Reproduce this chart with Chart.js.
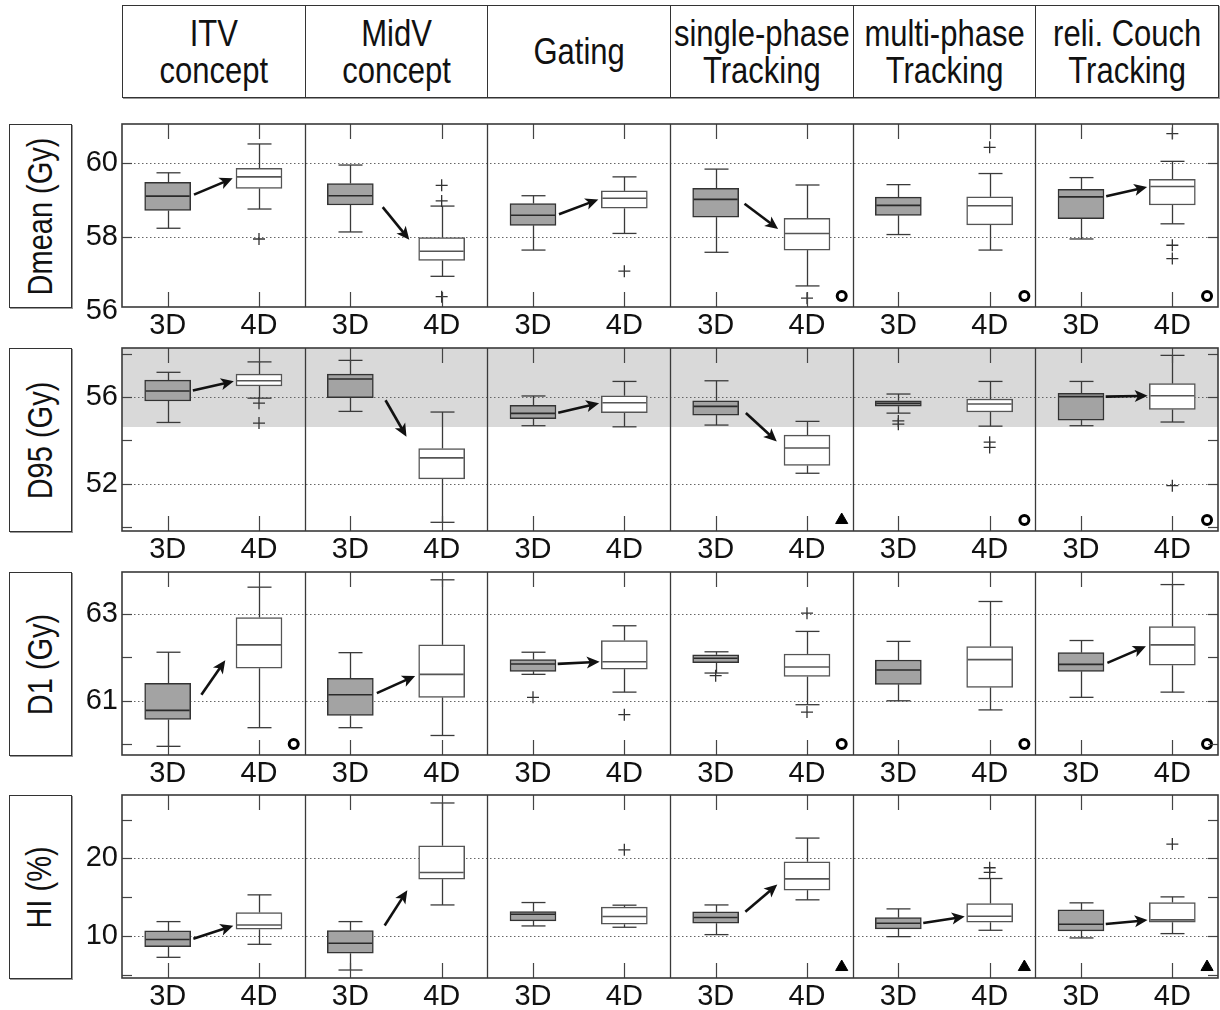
<!DOCTYPE html>
<html>
<head>
<meta charset="utf-8">
<script src="https://cdn.jsdelivr.net/npm/chart.js@4.4.1/dist/chart.umd.min.js"></script>
<style>
  body { margin: 0; background: #fff; font-family: 'Liberation Sans', Arial, sans-serif; overflow: hidden; }
  #page { position: relative; width: 1220px; height: 1010px; }
  .header { position: absolute; left: 122px; top: 5px; width: 1097px; height: 93px; display: flex;
            border: 1px solid #333; box-sizing: border-box; box-shadow: 1px 1px 0 #999; }
  .header div { flex: 1; display: flex; align-items: center; justify-content: center; text-align: center;
                border-left: 1px solid #333; }
  .header div:first-child { border-left: none; }
  .header span { font-size: 31px; line-height: 31px; color: #111; white-space: pre-line;
                 transform: scale(1, 1.2); }
  .ylab { position: absolute; left: 9px; width: 63px; border: 1px solid #333; box-sizing: border-box;
          display: flex; align-items: center; justify-content: center; box-shadow: 1px 1px 0 #999; }
  .ylab span { transform: rotate(-90deg) scale(1, 1.2); white-space: nowrap; font-size: 29px; color: #111; }
  canvas { position: absolute; left: 0; }
</style>
</head>
<body>
<div id="page"></div>
<script>
const concepts = ['ITV\nconcept', 'MidV\nconcept', 'Gating', 'single-phase\nTracking', 'multi-phase\nTracking', 'reli. Couch\nTracking'];
const groups = ['3D', '4D'];
const metrics = ['Dmean (Gy)', 'D95 (Gy)', 'D1 (Gy)', 'HI (%)'];

// box values per concept: [lower whisker, q1, median, q3, upper whisker]
const dmean3D = [[58.23, 58.71, 59.10, 59.47, 59.73], [58.13, 58.86, 59.11, 59.44, 59.94], [57.64, 58.31, 58.58, 58.90, 59.11],
                 [57.58, 58.53, 59.01, 59.31, 59.83], [58.06, 58.58, 58.85, 59.07, 59.41], [57.94, 58.49, 59.08, 59.28, 59.60]];
const dmean4D = [[58.75, 59.31, 59.62, 59.85, 60.51], [56.93, 57.36, 57.61, 57.98, 58.83], [58.09, 58.77, 59.04, 59.24, 59.62],
                 [56.67, 57.64, 58.09, 58.50, 59.40], [57.64, 58.32, 58.84, 59.08, 59.71], [58.35, 58.86, 59.36, 59.55, 60.04]];
const dmeanOut3D = [[], [], [], [], [], []];
const dmeanOut4D = [[57.94], [59.39, 58.97, 56.38], [57.07], [56.34], [60.42], [60.79, 57.77, 57.41]];
const dmeanArrows = [true, true, true, true, false, true];
const dmeanMarks = ['', '', '', 'circle', 'circle', 'circle'];
const dmeanTicks = [56, 58, 60];
const dmeanLabels = [56, 58, 60];

const d953D = [[54.83, 55.82, 56.28, 56.78, 57.14], [55.34, 55.97, 56.83, 57.06, 57.69], [54.68, 55.00, 55.25, 55.62, 56.05],
               [54.71, 55.17, 55.57, 55.83, 56.75], [55.26, 55.58, 55.71, 55.83, 56.14], [54.68, 54.94, 56.02, 56.17, 56.72]];
const d954D = [[55.95, 56.51, 56.75, 57.06, 57.62], [50.23, 52.23, 53.20, 53.63, 55.31], [54.63, 55.28, 55.74, 56.06, 56.72],
               [52.49, 52.85, 53.65, 54.25, 54.88], [54.66, 55.31, 55.68, 55.91, 56.72], [54.85, 55.43, 56.06, 56.62, 57.92]];
const d95Out3D = [[], [], [], [], [54.9, 54.75], []];
const d95Out4D = [[55.72, 54.80], [], [], [], [53.92, 53.68], [51.92]];
const d95Arrows = [true, true, true, true, false, true];
const d95Marks = ['', '', '', 'triangle', 'circle', 'circle'];
const d95Ticks = [50, 52, 54, 56, 58];
const d95Labels = [52, 56];
const d95Band = [54.62, 58.3];

const d13D = [[59.95, 60.57, 60.78, 61.40, 62.12], [60.38, 60.66, 61.14, 61.52, 62.11], [61.61, 61.68, 61.85, 61.95, 62.12],
              [61.64, 61.88, 61.98, 62.06, 62.13], [61.00, 61.38, 61.71, 61.94, 62.37], [61.08, 61.68, 61.84, 62.11, 62.39]];
const d14D = [[60.38, 61.75, 62.29, 62.92, 63.62], [60.20, 61.08, 61.61, 62.29, 63.79], [61.20, 61.73, 61.90, 62.39, 62.73],
              [60.91, 61.56, 61.78, 62.08, 62.60], [60.79, 61.31, 61.95, 62.25, 63.29], [61.20, 61.82, 62.29, 62.71, 63.68]];
const d1Out3D = [[], [], [61.08], [61.58], [], []];
const d1Out4D = [[], [], [60.68], [63.02, 60.74], [], []];
const d1Arrows = [true, true, true, false, false, true];
const d1Marks = ['circle', '', '', 'circle', 'circle', 'circle'];
const d1Ticks = [60, 61, 62, 63];
const d1Labels = [61, 63];

const hi3D = [[7.24, 8.62, 9.53, 10.65, 11.85], [5.60, 7.76, 9.05, 10.69, 11.85], [11.29, 11.94, 12.80, 13.15, 14.31],
              [10.17, 11.64, 12.37, 13.10, 14.00], [9.91, 10.91, 11.64, 12.37, 13.49], [9.74, 10.65, 11.51, 13.36, 14.27]];
const hi4D = [[8.92, 10.86, 11.42, 13.02, 15.30], [14.00, 17.33, 18.19, 21.64, 27.16], [11.12, 11.51, 12.50, 13.71, 13.97],
              [14.66, 15.91, 17.37, 19.57, 22.63], [10.73, 11.77, 12.54, 14.18, 17.41], [10.30, 11.77, 12.07, 14.31, 15.04]];
const hiOut3D = [[], [], [], [], [], []];
const hiOut4D = [[], [], [21.12], [], [18.8, 18.2], [21.85]];
const hiArrows = [true, true, false, true, true, true];
const hiMarks = ['', '', '', 'triangle', 'triangle', 'triangle'];
const hiTicks = [5, 10, 15, 20, 25];
const hiLabels = [10, 20];

const rows = [
  { box3: dmean3D, box4: dmean4D, out3: dmeanOut3D, out4: dmeanOut4D, arrows: dmeanArrows, marks: dmeanMarks,
    ticks: dmeanTicks, labels: dmeanLabels, min: 56.1, max: 61.05, band: null, top: 124 },
  { box3: d953D, box4: d954D, out3: d95Out3D, out4: d95Out4D, arrows: d95Arrows, marks: d95Marks,
    ticks: d95Ticks, labels: d95Labels, min: 49.83, max: 58.26, band: d95Band, top: 348 },
  { box3: d13D, box4: d14D, out3: d1Out3D, out4: d1Out4D, arrows: d1Arrows, marks: d1Marks,
    ticks: d1Ticks, labels: d1Labels, min: 59.75, max: 63.97, band: null, top: 572 },
  { box3: hi3D, box4: hi4D, out3: hiOut3D, out4: hiOut4D, arrows: hiArrows, marks: hiMarks,
    ticks: hiTicks, labels: hiLabels, min: 4.57, max: 28.19, band: null, top: 795 }
];

const FONT = "'Liberation Sans', Arial, sans-serif";
const PLOT_H = 183;
const BOX_W = 46;
const page = document.getElementById('page');

// header and row titles
const header = document.createElement('div');
header.className = 'header';
concepts.forEach(c => {
  const d = document.createElement('div');
  const s = document.createElement('span');
  s.textContent = c;
  d.appendChild(s);
  header.appendChild(d);
});
page.appendChild(header);

metrics.forEach((m, r) => {
  const d = document.createElement('div');
  d.className = 'ylab';
  d.style.top = rows[r].top + 'px';
  d.style.height = (PLOT_H + 1) + 'px';
  d.innerHTML = '<span></span>';
  d.firstChild.textContent = m;
  page.appendChild(d);
});

function line(ctx, x1, y1, x2, y2) {
  ctx.beginPath(); ctx.moveTo(x1, y1); ctx.lineTo(x2, y2); ctx.stroke();
}

function arrow(ctx, x1, y1, x2, y2) {
  const len = Math.hypot(x2 - x1, y2 - y1);
  const ux = (x2 - x1) / len, uy = (y2 - y1) / len;
  const cx = (x1 + x2) / 2, cy = (y1 + y2) / 2;
  const sx = cx - ux * 21, sy = cy - uy * 21, ex = cx + ux * 21, ey = cy + uy * 21;
  const head = 13, hw = 6;
  ctx.beginPath(); ctx.moveTo(sx, sy); ctx.lineTo(ex - ux * head * 0.7, ey - uy * head * 0.7); ctx.stroke();
  ctx.beginPath();
  ctx.moveTo(ex, ey);
  ctx.lineTo(ex - ux * head - uy * hw, ey - uy * head + ux * hw);
  ctx.lineTo(ex - ux * head * 0.75, ey - uy * head * 0.75);
  ctx.lineTo(ex - ux * head + uy * hw, ey - uy * head - ux * hw);
  ctx.closePath(); ctx.fill();
}

function makeChart(row, idx) {
  const canvas = document.createElement('canvas');
  canvas.width = 1220;
  canvas.height = 2 + PLOT_H + 38;
  canvas.style.top = (row.top - 2) + 'px';
  page.appendChild(canvas);

  const outliers = [];
  row.out3.forEach((list, i) => list.forEach(v => outliers.push({ x: i + 0.25, y: v })));
  row.out4.forEach((list, i) => list.forEach(v => outliers.push({ x: i + 0.75, y: v })));
  const markY = row.min + (row.max - row.min) * 0.06;
  const circles = [], triangles = [];
  row.marks.forEach((m, i) => {
    if (m === 'circle') circles.push({ x: i + 0.94, y: markY });
    if (m === 'triangle') triangles.push({ x: i + 0.94, y: markY });
  });

  const decor = {
    id: 'decor' + idx,
    beforeDatasetsDraw(chart) {
      const { ctx, chartArea: a, scales: { x, y } } = chart;
      ctx.save();
      if (row.band) {
        const yt = y.getPixelForValue(Math.min(row.band[1], row.max));
        const yb = y.getPixelForValue(row.band[0]);
        ctx.fillStyle = '#d9d9d9';
        ctx.fillRect(a.left, yt, a.width, yb - yt);
      }
      ctx.strokeStyle = '#666'; ctx.lineWidth = 1; ctx.setLineDash([1.5, 2.5]);
      row.labels.forEach(v => {
        if (v <= row.min || v >= row.max) return;
        const py = Math.round(y.getPixelForValue(v)) + 0.5;
        line(ctx, a.left, py, a.right, py);
      });
      ctx.setLineDash([]);
      ctx.strokeStyle = '#3a3a3a'; ctx.lineWidth = 1.3;
      [[row.box3, 0.25], [row.box4, 0.75]].forEach(([boxes, off]) => boxes.forEach((b, i) => {
        const px = Math.round(x.getPixelForValue(i + off)) + 0.5;
        const lo = y.getPixelForValue(b[0]), hi = y.getPixelForValue(b[4]);
        line(ctx, px, lo, px, y.getPixelForValue(b[1]));
        line(ctx, px, hi, px, y.getPixelForValue(b[3]));
        line(ctx, px - 12, lo, px + 12, lo);
        line(ctx, px - 12, hi, px + 12, hi);
      }));
      ctx.restore();
    },
    afterDatasetsDraw(chart) {
      const { ctx, chartArea: a, scales: { x, y } } = chart;
      ctx.save();
      // medians
      ctx.lineWidth = 1.6;
      [[row.box3, 0.25, '#2a2a2a'], [row.box4, 0.75, '#555']].forEach(([boxes, off, col]) => boxes.forEach((b, i) => {
        const px = x.getPixelForValue(i + off), py = y.getPixelForValue(b[2]);
        ctx.strokeStyle = col;
        line(ctx, px - BOX_W / 2 + 1, py, px + BOX_W / 2 - 1, py);
      }));
      // arrows from 3D median to 4D median
      ctx.strokeStyle = '#111'; ctx.fillStyle = '#111'; ctx.lineWidth = 2.6;
      row.arrows.forEach((on, i) => {
        if (!on) return;
        arrow(ctx, x.getPixelForValue(i + 0.25) + BOX_W / 2, y.getPixelForValue(row.box3[i][2]),
                   x.getPixelForValue(i + 0.75) - BOX_W / 2, y.getPixelForValue(row.box4[i][2]));
      });
      // inner tick marks
      ctx.strokeStyle = '#444'; ctx.lineWidth = 1.2;
      concepts.forEach((c, i) => [0.25, 0.75].forEach(off => {
        const px = Math.round(x.getPixelForValue(i + off)) + 0.5;
        line(ctx, px, a.top, px, a.top + 15);
        line(ctx, px, a.bottom, px, a.bottom - 15);
      }));
      row.ticks.forEach(v => {
        if (v <= row.min || v >= row.max) return;
        const py = Math.round(y.getPixelForValue(v)) + 0.5;
        line(ctx, a.left, py, a.left + 10, py);
        line(ctx, a.right, py, a.right - 10, py);
      });
      // panel separators and frame
      ctx.strokeStyle = '#3a3a3a'; ctx.lineWidth = 1.3;
      for (let i = 1; i < concepts.length; i++) {
        const px = Math.round(x.getPixelForValue(i)) + 0.5;
        line(ctx, px, a.top, px, a.bottom);
      }
      ctx.lineWidth = 1.6;
      ctx.strokeRect(a.left, a.top, a.width, a.height);
      ctx.restore();
    }
  };

  const zeroPad = s => { s.paddingTop = 0; s.paddingBottom = 0; s.paddingLeft = 0; s.paddingRight = 0; };

  new Chart(canvas, {
    type: 'bar',
    data: {
      datasets: [
        { label: groups[0], data: row.box3.map((b, i) => ({ x: i + 0.25, y: [b[1], b[3]] })),
          backgroundColor: '#a3a3a3', borderColor: '#333', borderWidth: 1.5, borderSkipped: false,
          barThickness: BOX_W, grouped: false },
        { label: groups[1], data: row.box4.map((b, i) => ({ x: i + 0.75, y: [b[1], b[3]] })),
          backgroundColor: '#fff', borderColor: '#555', borderWidth: 1.5, borderSkipped: false,
          barThickness: BOX_W, grouped: false },
        { type: 'scatter', data: outliers, pointStyle: 'cross', pointRadius: 6,
          borderColor: '#333', borderWidth: 1.3 },
        { type: 'scatter', data: circles, pointStyle: 'circle', pointRadius: 4.5,
          borderColor: '#000', backgroundColor: '#fff', borderWidth: 3 },
        { type: 'scatter', data: triangles, pointStyle: 'triangle', pointRadius: 7,
          borderColor: '#000', backgroundColor: '#000', borderWidth: 1 }
      ]
    },
    options: {
      responsive: false,
      animation: false,
      devicePixelRatio: 1,
      layout: { autoPadding: false, padding: { top: 2, right: 2, left: 0, bottom: 0 } },
      plugins: { legend: { display: false }, tooltip: { enabled: false } },
      scales: {
        x: {
          type: 'linear', min: 0, max: concepts.length, offset: false,
          grid: { display: false, drawTicks: false }, border: { display: false },
          afterBuildTicks: s => {
            s.ticks = [];
            concepts.forEach((c, i) => { s.ticks.push({ value: i + 0.25 }, { value: i + 0.75 }); });
          },
          ticks: {
            autoSkip: false, maxRotation: 0, padding: 2, color: '#111',
            font: { family: FONT, size: 29 },
            callback: v => groups[(v % 1) < 0.5 ? 0 : 1]
          },
          afterFit: s => { s.height = 38; zeroPad(s); }
        },
        y: {
          min: row.min, max: row.max,
          grid: { display: false, drawTicks: false }, border: { display: false },
          afterBuildTicks: s => { s.ticks = row.ticks.map(v => ({ value: v })); },
          ticks: {
            padding: 4, color: '#111', font: { family: FONT, size: 29 },
            callback: v => row.labels.includes(v) ? String(v) : ''
          },
          afterFit: s => { s.width = 122; zeroPad(s); }
        }
      }
    },
    plugins: [decor]
  });
}

rows.forEach(makeChart);
</script>
</body>
</html>
